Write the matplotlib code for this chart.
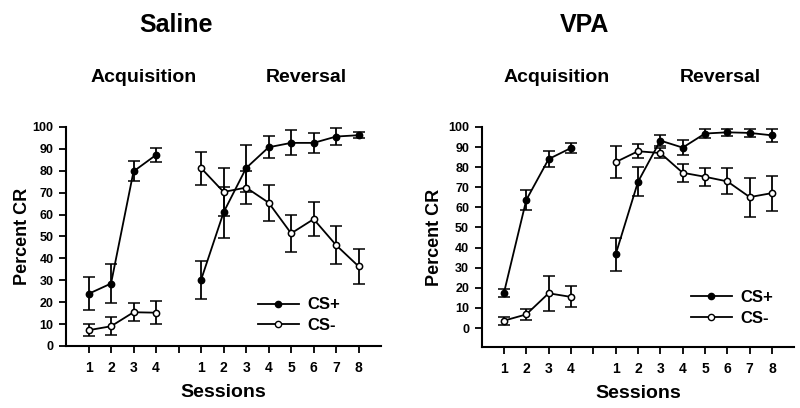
import numpy as np
import matplotlib
matplotlib.use('Agg')
import matplotlib.pyplot as plt
from matplotlib import font_manager

# session positions: 1-4 acquisition, 5 is a gap, 6-13 reversal
acq_pos = [1, 2, 3, 4]
rev_pos = [6, 7, 8, 9, 10, 11, 12, 13]
tick_pos = list(range(1, 14))
tick_labels = ['1', '2', '3', '4', '', '1', '2', '3', '4', '5', '6', '7', '8']

# Saline
sal_acq_plus = [23.8, 28.5, 79.7, 87.2]
sal_acq_plus_err = [7.6, 8.7, 4.6, 3.3]
sal_acq_minus = [7.2, 9.0, 15.4, 15.2]
sal_acq_minus_err = [2.7, 4.1, 4.2, 5.3]
sal_rev_plus = [30.2, 61.0, 81.2, 90.7, 92.7, 92.7, 95.6, 96.2]
sal_rev_plus_err = [8.7, 11.5, 10.7, 5.0, 5.7, 4.4, 3.7, 1.3]
sal_rev_minus = [81.2, 70.3, 72.3, 65.4, 51.4, 57.9, 46.0, 36.3]
sal_rev_minus_err = [7.5, 11.0, 7.5, 8.2, 8.5, 7.6, 8.8, 7.9]

# VPA
vpa_acq_plus = [17.5, 63.7, 84.0, 89.5]
vpa_acq_plus_err = [2.1, 4.8, 4.1, 2.4]
vpa_acq_minus = [3.7, 6.8, 17.3, 15.5]
vpa_acq_minus_err = [2.0, 2.7, 8.8, 5.2]
vpa_rev_plus = [36.6, 72.7, 93.2, 89.7, 96.7, 97.3, 97.0, 95.8]
vpa_rev_plus_err = [8.2, 7.2, 2.6, 3.7, 2.1, 1.7, 1.8, 3.1]
vpa_rev_minus = [82.5, 87.9, 87.0, 77.2, 75.2, 72.9, 65.1, 67.1]
vpa_rev_minus_err = [8.0, 3.5, 2.4, 4.4, 4.6, 6.5, 9.7, 8.7]

installed = {f.name for f in font_manager.fontManager.ttflist}
narrow = 'Liberation Sans Narrow' if 'Liberation Sans Narrow' in installed else 'Liberation Sans'
plt.rcParams['font.family'] = ['Liberation Sans', 'DejaVu Sans']
plt.rcParams['font.weight'] = 'bold'


def draw_series(ax, x, y, err, filled):
    face = 'black' if filled else 'white'
    ax.errorbar(x, y, yerr=err, color='black', lw=1.3, elinewidth=1.3,
                capsize=4, capthick=1.3, marker='o', ms=4.5,
                mfc=face, mec='black', mew=1.1, zorder=3)


def panel(ax, acq_p, acq_pe, acq_m, acq_me, rev_p, rev_pe, rev_m, rev_me, ybottom, ypad):
    draw_series(ax, acq_pos, acq_p, acq_pe, True)
    draw_series(ax, acq_pos, acq_m, acq_me, False)
    draw_series(ax, rev_pos, rev_p, rev_pe, True)
    draw_series(ax, rev_pos, rev_m, rev_me, False)
    ax.set_xlim(0, 14)
    ax.set_ylim(ybottom, 100)
    ax.set_yticks(np.arange(0, 101, 10))
    ax.set_xticks(tick_pos)
    ax.set_xticklabels(tick_labels, family=narrow, fontsize=10, fontweight='bold')
    for lab in ax.get_yticklabels():
        lab.set_fontsize(9)
        lab.set_fontweight('bold')
    ax.tick_params(direction='out', length=5, width=1.3, pad=4)
    ax.tick_params(axis='x', pad=6)
    for s in ['top', 'right']:
        ax.spines[s].set_visible(False)
    for s in ['left', 'bottom']:
        ax.spines[s].set_linewidth(1.5)
    ax.set_ylabel('Percent CR', fontsize=13, fontweight='bold', labelpad=ypad)
    ax.set_xlabel('Sessions', family=narrow, fontsize=14, fontweight='bold', labelpad=6)
    h1 = plt.Line2D([], [], color='black', lw=1.3, marker='o', ms=4.5, mfc='black', mec='black')
    h2 = plt.Line2D([], [], color='black', lw=1.3, marker='o', ms=4.5, mfc='white', mec='black')
    return h1, h2


fig = plt.figure(figsize=(8, 4.08), dpi=100)
ax1 = fig.add_axes([0.0825, 0.152, 0.394, 0.537])
ax2 = fig.add_axes([0.602, 0.149, 0.391, 0.540])

h1, h2 = panel(ax1, sal_acq_plus, sal_acq_plus_err, sal_acq_minus, sal_acq_minus_err,
               sal_rev_plus, sal_rev_plus_err, sal_rev_minus, sal_rev_minus_err, 0, 1)
ax1.legend([h1, h2], ['CS+', 'CS-'], loc='lower left', bbox_to_anchor=(0.56, -0.01),
           frameon=False, handlelength=2.5, labelspacing=0.35,
           handletextpad=0.5, prop={'weight': 'bold', 'size': 12})

panel(ax2, vpa_acq_plus, vpa_acq_plus_err, vpa_acq_minus, vpa_acq_minus_err,
      vpa_rev_plus, vpa_rev_plus_err, vpa_rev_minus, vpa_rev_minus_err, -9.5, 4)
ax2.legend([h1, h2], ['CS+', 'CS-'], loc='lower left', bbox_to_anchor=(0.62, 0.03),
           frameon=False, handlelength=2.5, labelspacing=0.35,
           handletextpad=0.5, prop={'weight': 'bold', 'size': 12})

fig.text(0.22, 0.939, 'Saline', family=narrow, fontsize=18, fontweight='bold', ha='center', va='center')
fig.text(0.731, 0.939, 'VPA', family=narrow, fontsize=18, fontweight='bold', ha='center', va='center')
fig.text(0.179, 0.811, 'Acquisition', family=narrow, fontsize=14, fontweight='bold', ha='center', va='center')
fig.text(0.383, 0.811, 'Reversal', family=narrow, fontsize=14, fontweight='bold', ha='center', va='center')
fig.text(0.696, 0.811, 'Acquisition', family=narrow, fontsize=14, fontweight='bold', ha='center', va='center')
fig.text(0.901, 0.811, 'Reversal', family=narrow, fontsize=14, fontweight='bold', ha='center', va='center')

fig.savefig('out.png', dpi=100)
